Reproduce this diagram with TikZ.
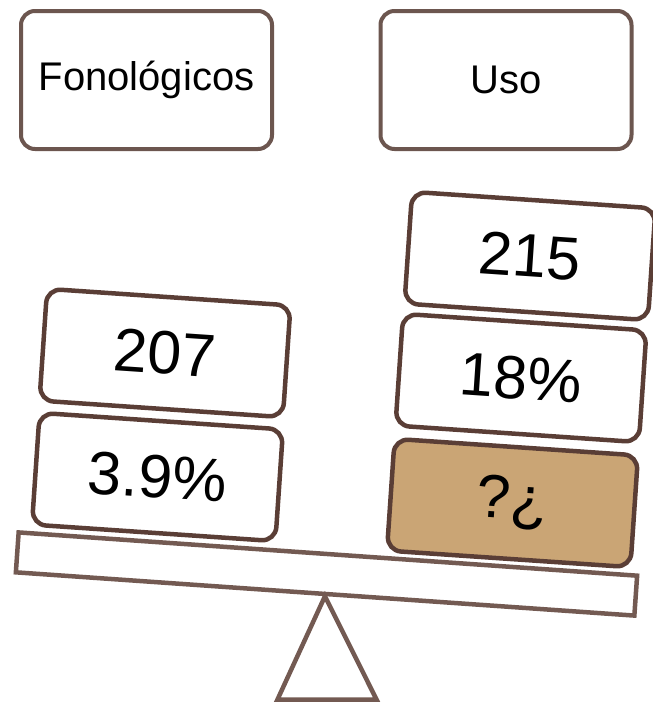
\documentclass[tikz,border=0pt]{standalone}
\usepackage{fontspec}
\setmainfont{Liberation Sans}
\definecolor{boxline}{RGB}{90,62,54}
\definecolor{topline}{RGB}{108,86,79}
\definecolor{scaleline}{RGB}{115,90,82}
\definecolor{weight}{RGB}{202,165,117}
\begin{document}
\begin{tikzpicture}[x=1pt,y=-1pt,
  label box/.style={draw=topline, line width=4pt, rounded corners=14pt, fill=white,
    minimum width=251pt, minimum height=138pt, inner sep=0pt,
    font=\fontsize{40}{42}\selectfont},
  block/.style={draw=boxline, line width=4.5pt, rounded corners=14pt, fill=white,
    minimum width=244pt, minimum height=112pt, inner sep=0pt, rotate=-3.9,
    font=\fontsize{61}{63}\selectfont},
  unknown/.style={block, fill=weight}]
  \useasboundingbox (0,0) rectangle (653,705);

  % category headings
  \node[label box] (fon) at (146.5,80) {Fonológicos};
  \node[label box] (uso) at (506,80) {Uso};

  % beam of the balance and its fulcrum
  \node[draw=scaleline, line width=4.5pt, fill=white, minimum width=620pt,
        minimum height=40pt, inner sep=0pt, rotate=-4] (beam) at (326.5,574) {};
  \coordinate (baseL) at (277.5,699.5);
  \coordinate (baseR) at (376.5,699.5);
  \draw[scaleline, line width=4.5pt, line join=miter] (beam.south) -- (baseR) -- (baseL) -- cycle;

  % left pan
  \node[block] (l1) at (157.5,477) {3.9\%};
  \node[block] (l2) at (165,353) {207};

  % right pan
  \node[unknown] (r1) at (512.5,503) {?¿};
  \node[block] (r2) at (521,378) {18\%};
  \node[block] (r3) at (530,256) {215};
\end{tikzpicture}
\end{document}
